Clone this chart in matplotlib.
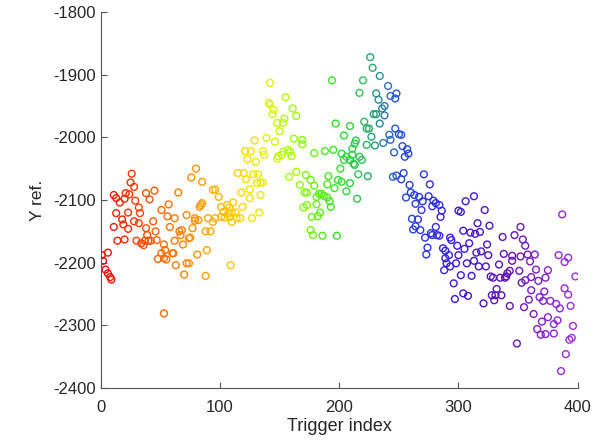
import numpy as np
import matplotlib
matplotlib.use("Agg")
import matplotlib.pyplot as plt
from matplotlib.colors import LinearSegmentedColormap

# Trigger index and Y reference value of each recorded trigger
trigger_index = [
    26, 25, 28, 11, 13, 16, 20, 21, 24, 29, 38, 41, 45, 32, 33, 23, 13, 18, 28, 32,
    44, 19, 11, 23, 38, 46, 39, 14, 20, 30, 34, 37, 40, 42, 47, 36, 6, 1, 2, 4,
    6, 8, 9, 48,
    80, 76, 85, 65, 94, 96, 99, 57, 51, 56, 62, 72, 85, 83, 84, 79, 79, 82, 90, 94,
    96, 58, 66, 68, 67, 77, 88, 92, 75, 74, 62, 69, 53, 54, 51, 61, 60, 53, 55, 89,
    81, 63, 72, 74, 70, 88, 53,
    142, 141, 142, 145, 144, 148, 150, 139, 146, 129, 121, 126, 136, 137, 123, 130, 148, 149, 115, 120,
    128, 132, 131, 134, 136, 122, 125, 118, 134, 125, 111, 106, 101, 108, 103, 107, 110, 113, 101, 104,
    108, 114, 117, 110, 119, 127, 133, 109,
    194, 155, 161, 164, 154, 153, 197, 162, 169, 169, 157, 159, 160, 152, 153, 179, 188, 195, 164, 158,
    172, 176, 191, 199, 167, 179, 190, 196, 171, 173, 183, 185, 187, 190, 192, 181, 193, 170, 173, 181,
    184, 182, 177, 176, 178, 186, 198,
    226, 228, 234, 220, 241, 217, 231, 243, 248, 247, 233, 238, 236, 229, 231, 238, 234, 221, 223, 225,
    209, 204, 227, 213, 214, 211, 223, 230, 237, 243, 242, 247, 250, 246, 202, 206, 211, 204, 209, 217,
    219, 212, 201, 213, 245, 248, 216, 224, 202, 209, 206, 215,
    252, 253, 257, 258, 255, 254, 252, 271, 276, 259, 260, 263, 267, 256, 275, 270, 264, 279, 281, 284,
    278, 269, 286, 285, 261, 266, 264, 262, 268, 281, 272, 277, 278, 282, 284, 293, 294, 274, 273, 287,
    289, 292, 289, 290, 293, 288, 299, 300, 298, 300, 296, 297,
    313, 306, 322, 302, 316, 326, 304, 310, 314, 318, 337, 347, 309, 324, 305, 315, 319, 325, 338, 345,
    313, 307, 317, 323, 334, 345, 302, 311, 327, 329, 335, 340, 343, 341, 339, 332, 331, 336, 328, 304,
    308, 330, 321, 343,
    387, 352, 354, 356, 352, 358, 364, 360, 384, 392, 389, 365, 375, 351, 373, 398, 361, 356, 353, 367,
    389, 392, 361, 372, 368, 371, 377, 359, 382, 385, 394, 355, 363, 375, 370, 383, 380, 396, 366, 369,
    373, 380, 349, 393, 395, 390, 386,
]

y_ref = [
    -2058, -2072, -2079, -2092, -2097, -2104, -2098, -2089, -2091, -2101, -2089, -2099, -2085, -2112, -2121, -2120, -2121, -2131, -2134, -2137,
    -2134, -2139, -2143, -2146, -2145, -2150, -2156, -2165, -2163, -2165, -2169, -2165, -2165, -2165, -2164, -2172, -2184, -2188, -2197, -2211,
    -2217, -2223, -2227, -2194,
    -2050, -2064, -2071, -2088, -2084, -2083, -2095, -2107, -2116, -2126, -2129, -2124, -2105, -2111, -2108, -2129, -2133, -2132, -2129, -2135,
    -2129, -2143, -2150, -2148, -2156, -2145, -2150, -2150, -2160, -2161, -2165, -2171, -2171, -2180, -2185, -2185, -2185, -2193, -2195, -2180,
    -2187, -2204, -2201, -2201, -2219, -2221, -2281,
    -1913, -1945, -1948, -1956, -1963, -1977, -1990, -2001, -2007, -2005, -2022, -2022, -2022, -2028, -2035, -2039, -2034, -2030, -2057, -2057,
    -2059, -2059, -2073, -2072, -2072, -2067, -2083, -2088, -2092, -2097, -2104, -2108, -2111, -2112, -2119, -2121, -2120, -2120, -2127, -2128,
    -2127, -2129, -2129, -2135, -2111, -2129, -2120, -2204,
    -1909, -1936, -1954, -1966, -1970, -1977, -1978, -2002, -2004, -2011, -2020, -2023, -2030, -2028, -2023, -2025, -2022, -2020, -2055, -2063,
    -2060, -2068, -2062, -2068, -2076, -2077, -2075, -2081, -2088, -2088, -2090, -2090, -2093, -2096, -2102, -2095, -2111, -2112, -2108, -2107,
    -2120, -2126, -2127, -2148, -2156, -2157, -2157,
    -1872, -1889, -1902, -1909, -1918, -1929, -1930, -1934, -1930, -1938, -1940, -1950, -1954, -1963, -1963, -1965, -1978, -1975, -1986, -1986,
    -1982, -1997, -1999, -2010, -2005, -2018, -2012, -2013, -2009, -2004, -1996, -1986, -1995, -2024, -2026, -2031, -2028, -2036, -2036, -2031,
    -2036, -2042, -2050, -2044, -2063, -2061, -2059, -2062, -2071, -2073, -2086, -2098,
    -1996, -2014, -2019, -2026, -2031, -2057, -2067, -2059, -2075, -2076, -2088, -2092, -2095, -2096, -2094, -2102, -2106, -2101, -2105, -2108,
    -2110, -2116, -2117, -2127, -2130, -2131, -2142, -2147, -2148, -2143, -2160, -2153, -2156, -2156, -2157, -2160, -2164, -2176, -2187, -2177,
    -2181, -2188, -2193, -2201, -2206, -2212, -2173, -2117, -2201, -2188, -2233, -2258,
    -2094, -2102, -2116, -2119, -2137, -2141, -2149, -2152, -2154, -2151, -2159, -2156, -2169, -2171, -2178, -2184, -2182, -2188, -2186, -2189,
    -2197, -2201, -2206, -2206, -2203, -2197, -2220, -2221, -2222, -2224, -2224, -2222, -2213, -2217, -2224, -2242, -2252, -2252, -2252, -2249,
    -2253, -2260, -2265, -2269,
    -2123, -2143, -2163, -2173, -2190, -2187, -2187, -2198, -2188, -2192, -2199, -2211, -2212, -2213, -2224, -2222, -2223, -2228, -2232, -2229,
    -2241, -2251, -2244, -2246, -2255, -2261, -2261, -2259, -2266, -2273, -2269, -2271, -2282, -2287, -2294, -2292, -2298, -2301, -2306, -2315,
    -2314, -2313, -2329, -2323, -2320, -2346, -2373,
]

x_ticks = [0, 100, 200, 300, 400]
y_ticks = [-2400, -2300, -2200, -2100, -2000, -1900, -1800]

# Rainbow ramp from red through yellow, green and blue to violet over the triggers
rainbow = LinearSegmentedColormap.from_list("trigger_rainbow", [
    (0.000, (1.00, 0.00, 0.00)),
    (0.125, (1.00, 0.40, 0.00)),
    (0.200, (1.00, 0.58, 0.00)),
    (0.250, (1.00, 0.72, 0.00)),
    (0.300, (1.00, 0.85, 0.00)),
    (0.350, (0.88, 0.97, 0.00)),
    (0.400, (0.65, 1.00, 0.00)),
    (0.500, (0.15, 0.90, 0.15)),
    (0.550, (0.18, 0.74, 0.36)),
    (0.575, (0.12, 0.62, 0.46)),
    (0.600, (0.18, 0.45, 0.75)),
    (0.630, (0.15, 0.28, 0.88)),
    (0.750, (0.22, 0.10, 0.90)),
    (0.850, (0.38, 0.06, 0.70)),
    (1.000, (0.64, 0.18, 0.90)),
])

plt.rcParams["font.family"] = ["Liberation Sans", "DejaVu Sans"]

x = np.asarray(trigger_index, dtype=float)
y = np.asarray(y_ref, dtype=float)
order = np.argsort(x, kind="stable")
x, y = x[order], y[order]
colors = rainbow(x / 400.0)

fig = plt.figure(figsize=(6.04, 4.40), dpi=100)
ax = fig.add_axes([0.1667, 0.1182, 0.7898, 0.8545])

ax.scatter(x, y, s=24, facecolors="none", edgecolors=colors, linewidths=1.0)

ax.set_xlim(0, 400)
ax.set_ylim(-2400, -1800)
ax.set_xticks(x_ticks)
ax.set_yticks(y_ticks)
ax.set_xticklabels([str(v) for v in x_ticks])
ax.set_yticklabels([str(v) for v in y_ticks])

text_color = "#262626"
for side in ("top", "right"):
    ax.spines[side].set_visible(False)
for side in ("left", "bottom"):
    ax.spines[side].set_color("#555555")
    ax.spines[side].set_linewidth(0.8)
ax.tick_params(direction="in", length=4, width=0.8, color="#555555",
               labelsize=12, labelcolor=text_color)
ax.tick_params(axis="x", pad=8.5)
ax.tick_params(axis="y", pad=3.5)

ax.set_xlabel("Trigger index", fontsize=13, color=text_color, labelpad=2)
ax.set_ylabel("Y ref.", fontsize=12.5, color=text_color, labelpad=6)

fig.savefig("out.png", dpi=100)
